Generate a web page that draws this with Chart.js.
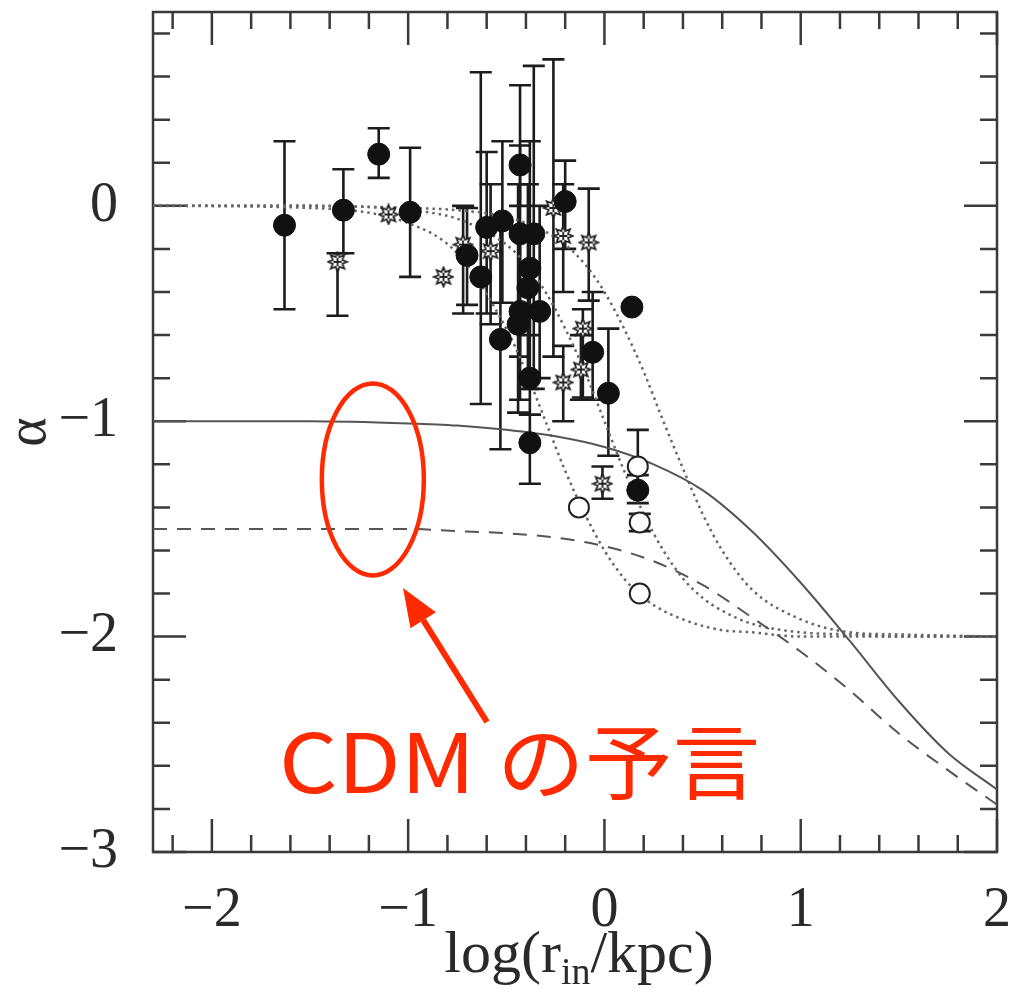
<!DOCTYPE html>
<html>
<head>
<meta charset="utf-8">
<script src="https://cdn.jsdelivr.net/npm/chart.js@4.4.0/dist/chart.umd.min.js"></script>
<style>
html, body { margin: 0; padding: 0; background: #fff; }
</style>
</head>
<body>
<canvas id="c" width="1010" height="993"></canvas>
<script>
// 理论曲线 (x = log r_in)
const curveX = [-2.3, -2, -1.5, -1, -0.75, -0.5, -0.25, 0, 0.25, 0.5, 0.75, 1, 1.25, 1.5, 1.75, 2];
const nfwAlpha = [-1.0, -1.0, -1.0, -1.01, -1.02, -1.04, -1.07, -1.12, -1.2, -1.32, -1.51, -1.75, -2.02, -2.3, -2.54, -2.71];
const mooreAlpha = [-1.5, -1.5, -1.5, -1.5, -1.51, -1.52, -1.54, -1.58, -1.65, -1.76, -1.91, -2.07, -2.25, -2.45, -2.62, -2.78];

// 点线 (等温核)
const isoX = [-2.3, -1.5, -1.0, -0.75, -0.5, -0.4, -0.3, -0.2, -0.1, 0, 0.1, 0.2, 0.3, 0.4, 0.5, 0.6, 0.75, 1.0, 1.25, 1.5, 2.0];
const isoA = [0, -0.01, -0.08, -0.22, -0.57, -0.77, -1.0, -1.23, -1.43, -1.6, -1.73, -1.82, -1.88, -1.92, -1.95, -1.97, -1.98, -2.0, -2.0, -2.0, -2.0];
const isoB = [0, 0, -0.02, -0.06, -0.18, -0.27, -0.4, -0.57, -0.77, -1.0, -1.23, -1.43, -1.6, -1.73, -1.82, -1.88, -1.94, -1.98, -1.99, -2.0, -2.0];
const isoC = [0, 0, -0.01, -0.02, -0.05, -0.08, -0.12, -0.18, -0.27, -0.4, -0.57, -0.77, -1.0, -1.22, -1.43, -1.6, -1.78, -1.92, -1.98, -1.99, -2.0];

// 实心圆
const filledX = [-1.63, -1.33, -1.15, -0.99, -0.70, -0.63, -0.60, -0.52, -0.43, -0.36, -0.38, -0.39, -0.43, -0.33, -0.44, -0.53, -0.38, -0.38, -0.43, -0.20, 0.14, -0.06, 0.02, 0.17];
const filledY = [-0.09, -0.02, 0.24, -0.03, -0.23, -0.33, -0.10, -0.07, -0.13, -0.13, -0.29, -0.38, -0.49, -0.49, -0.55, -0.62, -0.80, -1.10, 0.19, 0.02, -0.47, -0.68, -0.87, -1.32];
const filledHi = [0.30, 0.17, 0.36, 0.27, -0.01, 0.62, 0.25, 0.30, 0.56, 0.65, 0.30, 0.10, -0.10, 0.00, 0.10, -0.10, -0.50, -0.97, 0.28, 0.21, null, -0.40, -0.57, -1.25];
const filledLo = [-0.48, -0.22, 0.13, -0.33, -0.46, -0.92, -0.50, -0.45, -0.70, -0.85, -0.60, -0.85, -0.90, -0.80, -0.96, -1.13, -0.97, -1.29, 0.00, -0.20, null, -0.90, -1.16, -1.38];

// 空心星
const starX = [-1.36, -1.10, -0.82, -0.72, -0.58, -0.26, -0.21, -0.08, -0.11, -0.12, -0.21, -0.01];
const starY = [-0.26, -0.04, -0.33, -0.18, -0.21, -0.01, -0.14, -0.17, -0.57, -0.76, -0.82, -1.29];
const starHi = [-0.22, null, null, 0.0, 0.1, 0.68, 0.1, 0.08, -0.48, -0.6, -0.65, -1.21];
const starLo = [-0.51, null, null, -0.5, -0.55, -0.70, -0.40, -0.44, -0.89, -0.9, -1.0, -1.36];

// 空心圆
const openX = [0.17, -0.13, 0.18, 0.18];
const openY = [-1.21, -1.40, -1.47, -1.80];
const openHi = [-1.04, null, -1.43, null];
const openLo = [-1.32, null, -1.51, null];

// 刻度
const xTicks = [-2, -1, 0, 1, 2];
const yTicks = [-3, -2, -1, 0];

const toPts = (xs, ys) => xs.map((x, i) => ({ x: x, y: ys[i] }));
const fmt = v => v < 0 ? '\u2212' + Math.abs(v) : String(v);

// 星形符号
function makeStar(size) {
    const c = document.createElement('canvas');
    c.width = c.height = size;
    const g = c.getContext('2d');
    const m = size / 2, r1 = size / 2 - 1.5, r2 = r1 * 0.55;
    g.beginPath();
    for (let i = 0; i < 16; i++) {
        const r = i % 2 ? r2 : r1;
        const a = -Math.PI / 2 + i * Math.PI / 8;
        const px = m + r * Math.cos(a), py = m + r * Math.sin(a);
        if (i === 0) g.moveTo(px, py); else g.lineTo(px, py);
    }
    g.closePath();
    g.fillStyle = '#fff';
    g.fill();
    g.strokeStyle = '#222';
    g.lineWidth = 1.8;
    g.stroke();
    g.beginPath();
    g.moveTo(m, m - r2 * 0.8); g.lineTo(m, m + r2 * 0.8);
    g.moveTo(m - r2 * 0.8, m); g.lineTo(m + r2 * 0.8, m);
    g.stroke();
    return c;
}

// 误差棒
const errorBarPlugin = {
    id: 'errorBars',
    beforeDatasetsDraw(chart) {
        const g = chart.ctx;
        const { x, y } = chart.scales;
        g.save();
        g.strokeStyle = '#1c1c1c';
        g.lineWidth = 2.6;
        chart.data.datasets.forEach(ds => {
            if (!ds.errHi) return;
            ds.data.forEach((p, i) => {
                const hi = ds.errHi[i], lo = ds.errLo[i];
                if (hi == null) return;
                const px = x.getPixelForValue(p.x);
                const p1 = y.getPixelForValue(hi), p2 = y.getPixelForValue(lo);
                g.beginPath();
                g.moveTo(px, p1); g.lineTo(px, p2);
                g.moveTo(px - 11, p1); g.lineTo(px + 11, p1);
                g.moveTo(px - 11, p2); g.lineTo(px + 11, p2);
                g.stroke();
            });
        });
        g.restore();
    }
};

// 边框和内向刻度
const frameTicksPlugin = {
    id: 'frameTicks',
    beforeDatasetsDraw(chart) {
        const g = chart.ctx;
        const a = chart.chartArea;
        const { x, y } = chart.scales;
        g.save();
        g.strokeStyle = '#3a3a3a';
        g.lineWidth = 2.5;
        g.strokeRect(a.left, a.top, a.right - a.left, a.bottom - a.top);
        g.beginPath();
        for (let k = -11; k <= 10; k++) {
            const px = x.getPixelForValue(k / 5);
            const len = k % 5 === 0 ? 33 : 17;
            g.moveTo(px, a.bottom); g.lineTo(px, a.bottom - len);
            g.moveTo(px, a.top); g.lineTo(px, a.top + len);
        }
        for (let k = -15; k <= 4; k++) {
            const py = y.getPixelForValue(k / 5);
            const len = k % 5 === 0 ? 33 : 17;
            g.moveTo(a.left, py); g.lineTo(a.left + len, py);
            g.moveTo(a.right, py); g.lineTo(a.right - len, py);
        }
        g.stroke();
        g.restore();
    }
};

// x 轴标题 (带下标)
const xTitlePlugin = {
    id: 'xTitle',
    afterDraw(chart) {
        const g = chart.ctx;
        const a = chart.chartArea;
        const main = '60px "Liberation Serif", serif';
        const sub = '38px "Liberation Serif", serif';
        g.save();
        g.fillStyle = '#2a2a2a';
        g.textBaseline = 'alphabetic';
        g.font = main;
        const w1 = g.measureText('log(r').width;
        const w3 = g.measureText('/kpc)').width;
        g.font = sub;
        const w2 = g.measureText('in').width;
        let cx = (a.left + a.right) / 2 - (w1 + w2 + w3) / 2 + 4;
        const base = 972;
        g.font = main;
        g.fillText('log(r', cx, base);
        cx += w1;
        g.font = sub;
        g.fillText('in', cx, base + 12);
        cx += w2;
        g.font = main;
        g.fillText('/kpc)', cx, base);
        g.restore();
    }
};

// 红色标注
const notePlugin = {
    id: 'cdmNote',
    afterDraw(chart) {
        const g = chart.ctx;
        const { x, y } = chart.scales;
        const red = '#ff2a00';
        g.save();
        g.strokeStyle = red;
        g.fillStyle = red;
        g.lineWidth = 4.5;
        const ex = x.getPixelForValue(-1.18), ey = y.getPixelForValue(-1.27);
        g.beginPath();
        g.ellipse(ex, ey, 51, 96, 0, 0, Math.PI * 2);
        g.stroke();
        // 箭头
        const tail = [487, 722], tip = [403, 588];
        const dx = tip[0] - tail[0], dy = tip[1] - tail[1];
        const L = Math.hypot(dx, dy), ux = dx / L, uy = dy / L;
        const bx = tip[0] - 38 * ux, by = tip[1] - 38 * uy;
        g.lineWidth = 6;
        g.beginPath();
        g.moveTo(tail[0], tail[1]);
        g.lineTo(bx, by);
        g.stroke();
        g.beginPath();
        g.moveTo(tip[0], tip[1]);
        g.lineTo(bx - 15 * uy, by + 15 * ux);
        g.lineTo(bx + 15 * uy, by - 15 * ux);
        g.closePath();
        g.fill();
        // 文字
        g.font = '82px "Noto Sans CJK JP", "Noto Sans", sans-serif';
        g.textBaseline = 'alphabetic';
        g.save();
        g.translate(279, 793);
        g.scale(1.12, 1);
        g.fillText('CDM', 0, 0);
        g.restore();
        g.save();
        g.translate(497, 793);
        g.scale(1.07, 1);
        g.fillText('の予言', 0, 0);
        g.restore();
        g.restore();
    }
};

new Chart(document.getElementById('c'), {
    type: 'scatter',
    data: {
        datasets: [
            {
                label: 'filled',
                data: toPts(filledX, filledY),
                errHi: filledHi,
                errLo: filledLo,
                pointStyle: 'circle',
                pointRadius: 11,
                backgroundColor: '#111',
                borderColor: '#111',
                borderWidth: 1,
                order: 0
            },
            {
                label: 'stars',
                data: toPts(starX, starY),
                errHi: starHi,
                errLo: starLo,
                pointStyle: makeStar(22),
                pointRadius: 11,
                order: 1
            },
            {
                label: 'open',
                data: toPts(openX, openY),
                errHi: openHi,
                errLo: openLo,
                pointStyle: 'circle',
                pointRadius: 10,
                backgroundColor: '#fff',
                borderColor: '#222',
                borderWidth: 2,
                order: 2
            },
            {
                type: 'line',
                label: 'NFW',
                data: toPts(curveX, nfwAlpha),
                borderColor: '#555',
                borderWidth: 2,
                pointRadius: 0,
                cubicInterpolationMode: 'monotone',
                fill: false,
                order: 5
            },
            {
                type: 'line',
                label: 'Moore',
                data: toPts(curveX, mooreAlpha),
                borderColor: '#555',
                borderWidth: 2,
                borderDash: [14, 10],
                pointRadius: 0,
                cubicInterpolationMode: 'monotone',
                fill: false,
                order: 5
            },
            {
                type: 'line',
                label: 'rc=0.5',
                data: toPts(isoX, isoA),
                borderColor: '#666',
                borderWidth: 2.5,
                borderDash: [2.5, 4],
                pointRadius: 0,
                cubicInterpolationMode: 'monotone',
                fill: false,
                order: 5
            },
            {
                type: 'line',
                label: 'rc=1',
                data: toPts(isoX, isoB),
                borderColor: '#666',
                borderWidth: 2.5,
                borderDash: [2.5, 4],
                pointRadius: 0,
                cubicInterpolationMode: 'monotone',
                fill: false,
                order: 5
            },
            {
                type: 'line',
                label: 'rc=2',
                data: toPts(isoX, isoC),
                borderColor: '#666',
                borderWidth: 2.5,
                borderDash: [2.5, 4],
                pointRadius: 0,
                cubicInterpolationMode: 'monotone',
                fill: false,
                order: 5
            }
        ]
    },
    options: {
        responsive: false,
        animation: false,
        layout: { padding: { top: 12, right: 13, left: 0, bottom: 0 } },
        plugins: {
            legend: { display: false },
            tooltip: { enabled: false }
        },
        scales: {
            x: {
                type: 'linear',
                min: -2.3,
                max: 2,
                grid: { display: false, drawTicks: false },
                border: { display: false },
                afterBuildTicks: s => { s.ticks = xTicks.map(v => ({ value: v })); },
                afterFit: s => { s.height = 141; s.paddingLeft = 0; s.paddingRight = 0; },
                ticks: {
                    autoSkip: false,
                    maxRotation: 0,
                    padding: 26,
                    color: '#2a2a2a',
                    font: { family: '"Liberation Serif", serif', size: 56 },
                    callback: v => fmt(v)
                }
            },
            y: {
                type: 'linear',
                min: -3,
                max: 0.9,
                grid: { display: false, drawTicks: false },
                border: { display: false },
                afterBuildTicks: s => { s.ticks = yTicks.map(v => ({ value: v })); },
                afterFit: s => { s.width = 153; s.paddingTop = 0; s.paddingBottom = 0; },
                ticks: {
                    autoSkip: false,
                    padding: 35,
                    color: '#2a2a2a',
                    font: { family: '"Liberation Serif", serif', size: 56 },
                    callback: v => fmt(v)
                },
                title: {
                    display: true,
                    text: 'α',
                    color: '#2a2a2a',
                    padding: { top: 2, bottom: 0 },
                    font: { family: '"Liberation Serif", serif', size: 56, lineHeight: 1 }
                }
            }
        }
    },
    plugins: [frameTicksPlugin, errorBarPlugin, xTitlePlugin, notePlugin]
});
</script>
</body>
</html>
